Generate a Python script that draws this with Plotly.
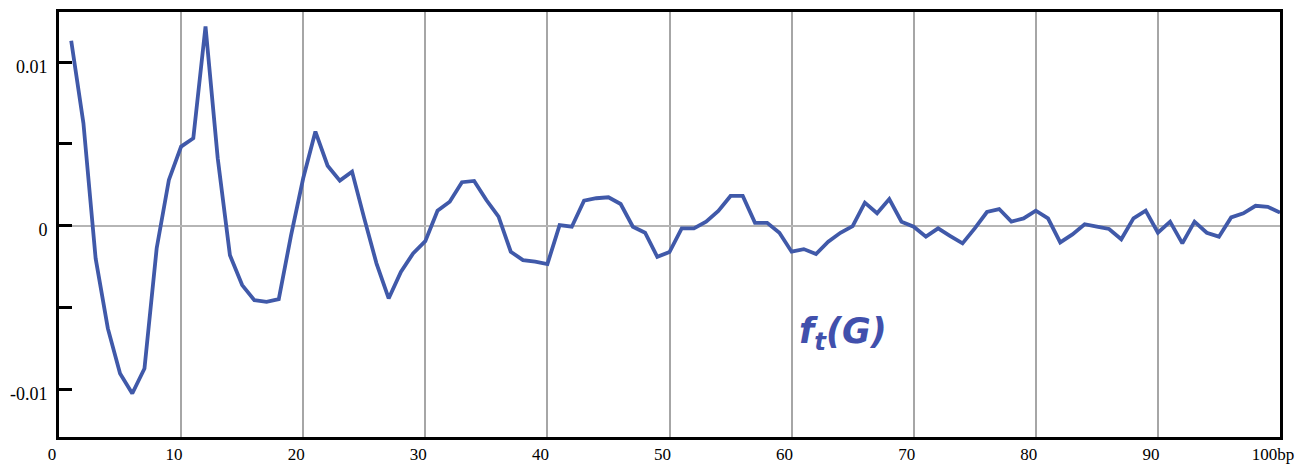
import plotly.graph_objects as go

positions = list(range(1, 101))
values = [
    0.01131, 0.00627, -0.00200, -0.00628, -0.00904, -0.01026, -0.00873, -0.00138, 0.00280, 0.00484,
    0.00535, 0.01219, 0.00413, -0.00180, -0.00363, -0.00455, -0.00465, -0.00449, -0.00060, 0.00290,
    0.00576, 0.00367, 0.00276, 0.00331, 0.00045, -0.00230, -0.00445, -0.00282, -0.00169, -0.00094,
    0.00092, 0.00147, 0.00266, 0.00274, 0.00157, 0.00055, -0.00159, -0.00210, -0.00220, -0.00235,
    0.00004, -0.00006, 0.00153, 0.00168, 0.00174, 0.00133, -0.00006, -0.00043, -0.00190, -0.00161,
    -0.00016, -0.00016, 0.00025, 0.00090, 0.00182, 0.00182, 0.00018, 0.00018, -0.00043, -0.00159,
    -0.00143, -0.00173, -0.00098, -0.00043, -0.00002, 0.00141, 0.00076, 0.00163, 0.00025, -0.00006,
    -0.00067, -0.00016, -0.00063, -0.00108, -0.00016, 0.00084, 0.00102, 0.00025, 0.00045, 0.00092,
    0.00045, -0.00102, -0.00053, 0.00009, -0.00006, -0.00020, -0.00083, 0.00045, 0.00092, -0.00043,
    0.00025, -0.00108, 0.00025, -0.00043, -0.00067, 0.00051, 0.00076, 0.00122, 0.00116, 0.00080,
]

x_tickvals = [0, 10, 20, 30, 40, 50, 60, 70, 80, 90, 100]
x_ticktext = ["0", "10", "20", "30", "40", "50", "60", "70", "80", "90", "100bp"]
y_tickvals = [-0.01, -0.005, 0, 0.005, 0.01]
y_ticktext = ["-0.01", "", "0", "", "0.01"]

fig = go.Figure()
fig.add_trace(go.Scatter(
    x=positions, y=values, mode="lines",
    line=dict(color="#4059A9", width=3.8),
    showlegend=False, hoverinfo="skip",
))

fig.add_annotation(
    x=64.2, y=-0.0066, xref="x", yref="y",
    text="<b><i>f<sub>t</sub>(G)</i></b>",
    showarrow=False,
    font=dict(family="DejaVu Sans", size=35, color="#4150AC"),
)

# page body has an 8px default margin, so the figure is sized to fit the window
fig.update_layout(
    width=1296, height=456,
    margin=dict(l=51, r=24, t=4, b=27),
    paper_bgcolor="white", plot_bgcolor="white",
    font=dict(family="Liberation Serif", size=18, color="black"),
)

fig.update_xaxes(
    range=[0, 100], automargin=False,
    tickvals=x_tickvals, ticktext=x_ticktext,
    showgrid=True, gridcolor="#a6a6a6", gridwidth=1.5,
    showline=True, linecolor="black", linewidth=3, mirror=True,
    ticks="", zeroline=False,
    ticklabelshift=-7, ticklabelstandoff=0,
    tickfont=dict(family="Liberation Serif", size=17),
)
fig.update_yaxes(
    range=[-0.01292, 0.01307], automargin=False,
    tickvals=y_tickvals, ticktext=y_ticktext,
    showgrid=False,
    zeroline=True, zerolinecolor="#b5b5b5", zerolinewidth=2,
    showline=True, linecolor="black", linewidth=3, mirror=True,
    ticks="inside", ticklen=13, tickwidth=3, tickcolor="black",
    ticklabelstandoff=5, ticklabelshift=4,
    tickfont=dict(family="Liberation Serif", size=18),
)

fig.write_html("out.html")
